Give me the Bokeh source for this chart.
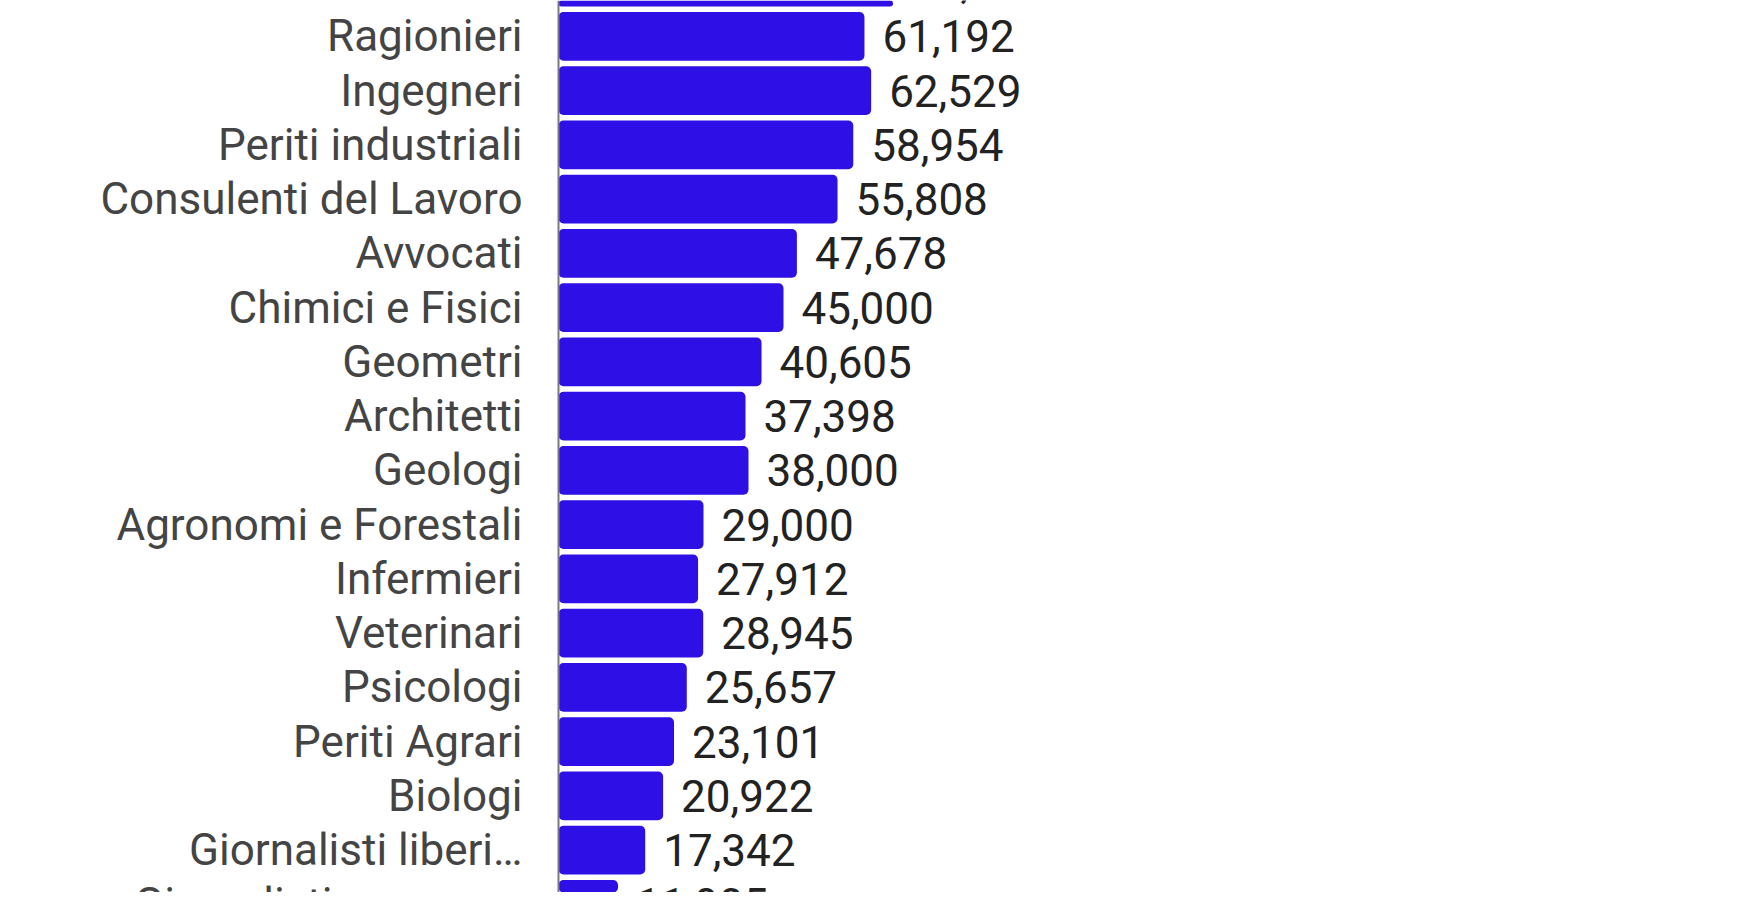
from bokeh.plotting import figure
from bokeh.models import Range1d, Span, ColumnDataSource
from bokeh.core.properties import value
from bokeh.embed import file_html
from bokeh.resources import INLINE

# ---- data ----
categories = [
    "Commercialisti", "Ragionieri", "Ingegneri", "Periti industriali",
    "Consulenti del Lavoro", "Avvocati", "Chimici e Fisici", "Geometri",
    "Architetti", "Geologi", "Agronomi e Forestali", "Infermieri",
    "Veterinari", "Psicologi", "Periti Agrari", "Biologi",
    "Giornalisti liberi…", "Giornalisti co.co.co.",
]
incomes = [66912, 61192, 62529, 58954, 55808, 47678, 45000, 40605, 37398,
           38000, 29000, 27912, 28945, 25657, 23101, 20922, 17342, 11905]
value_labels = [f"{v:,}" for v in incomes]
positions = list(range(len(categories)))

src = ColumnDataSource(dict(pos=positions, cat=categories, val=incomes, lbl=value_labels))

BAR = "#2e0fe6"
FONT = value("Roboto")

p = figure(width=1742, height=892,
           x_range=Range1d(-111600, 236800),
           y_range=Range1d(16.781, 0.339),
           x_axis_location=None, y_axis_location=None,
           output_backend="svg", toolbar_location=None, min_border=0)
p.grid.visible = False
p.outline_line_color = None
p.background_fill_color = "white"
p.border_fill_color = "white"

p.hbar(y="pos", left=0, right="val", height=0.9, source=src,
       fill_color=BAR, line_color=None, border_radius=5)

p.text(x=0, y="pos", text="cat", source=src, x_offset=-36,
       text_align="right", text_baseline="middle",
       text_font=FONT, text_font_size="44px", text_color="#444444")

p.text(x="val", y="pos", text="lbl", source=src, x_offset=18,
       text_align="left", text_baseline="middle",
       text_font=FONT, text_font_size="44px", text_color="#222222")

p.add_layout(Span(location=0, dimension="height", line_color="#7a7a7a", line_width=2))

open("out.html", "w").write(file_html(p, INLINE))
